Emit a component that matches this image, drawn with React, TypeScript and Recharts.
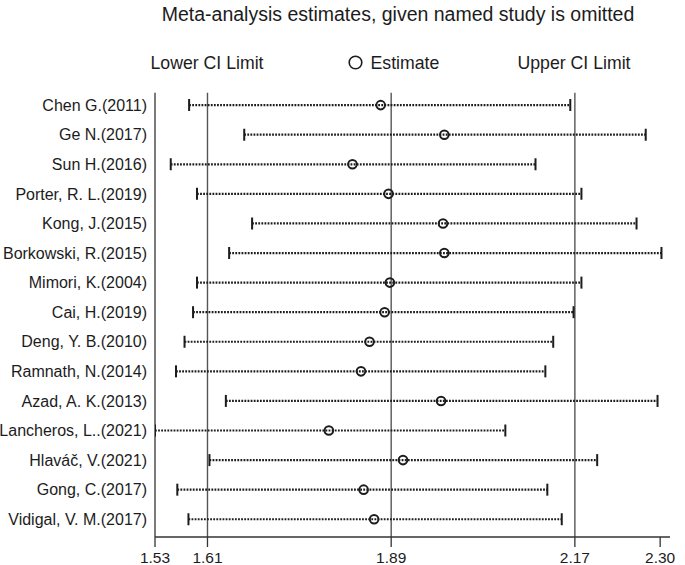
import React from 'react'
import { ScatterChart, Scatter, XAxis, YAxis, ReferenceLine } from 'recharts'

const studies = [
  'Chen G.(2011)',
  'Ge N.(2017)',
  'Sun H.(2016)',
  'Porter, R. L.(2019)',
  'Kong, J.(2015)',
  'Borkowski, R.(2015)',
  'Mimori, K.(2004)',
  'Cai, H.(2019)',
  'Deng, Y. B.(2010)',
  'Ramnath, N.(2014)',
  'Azad, A. K.(2013)',
  'Lancheros, L..(2021)',
  'Hlaváč, V.(2021)',
  'Gong, C.(2017)',
  'Vidigal, V. M.(2017)',
]
const lowerCI = [1.582, 1.666, 1.554, 1.594, 1.678, 1.643, 1.594, 1.588, 1.575, 1.562, 1.638, 1.530, 1.613, 1.564, 1.581]
const estimate = [1.874, 1.971, 1.831, 1.886, 1.969, 1.971, 1.888, 1.880, 1.857, 1.844, 1.966, 1.795, 1.908, 1.848, 1.864]
const upperCI = [2.163, 2.278, 2.110, 2.180, 2.264, 2.302, 2.180, 2.168, 2.137, 2.125, 2.296, 2.064, 2.204, 2.128, 2.150]
const xTicks = [1.53, 1.61, 1.89, 2.17, 2.3]
const refLines = [1.61, 1.89, 2.17]

const FONT = '"Liberation Sans", Arial, sans-serif'
const INK = '#1c1c1c'

const rows = studies.map((name, i) => ({
  row: i + 1,
  name,
  lo: lowerCI[i],
  est: estimate[i],
  hi: upperCI[i],
}))
const loPts = rows.map((r) => ({ x: r.lo, row: r.row }))
const hiPts = rows.map((r) => ({ x: r.hi, row: r.row }))
const estPts = rows.map((r) => ({ x: r.est, row: r.row }))

// vertical end cap of a CI bar
const Cap = (props: any) => {
  const { cx, cy } = props
  if (cx == null || cy == null) return null
  return <line x1={cx} x2={cx} y1={cy - 6} y2={cy + 6} stroke={INK} strokeWidth={2} />
}

// hollow marker for the point estimate
const Ring = (props: any) => {
  const { cx, cy } = props
  if (cx == null || cy == null) return null
  return <circle cx={cx} cy={cy} r={4.3} fill="none" stroke={INK} strokeWidth={2} />
}

export default function App() {
  return (
    <div style={{ position: 'absolute', left: 0, top: 0, width: 685, height: 565, background: '#fff', fontFamily: FONT }}>
      <ScatterChart width={685} height={565} margin={{ top: 92.7, right: 15, bottom: 0, left: 0 }}>
        <XAxis
          type="number"
          dataKey="x"
          domain={[1.53, 2.315]}
          allowDataOverflow
          ticks={xTicks}
          interval={0}
          tickFormatter={(v: number) => v.toFixed(2)}
          height={28}
          tickSize={10}
          tickMargin={5}
          axisLine={{ stroke: '#333', strokeWidth: 1.3 }}
          tickLine={{ stroke: '#333', strokeWidth: 1.3 }}
          tick={{ fontSize: 15.5, fill: INK, fontFamily: FONT }}
        />
        <YAxis
          type="number"
          dataKey="row"
          domain={[0.58, 15.6]}
          allowDataOverflow
          reversed
          ticks={rows.map((r) => r.row)}
          interval={0}
          tickFormatter={(v: number) => studies[v - 1] ?? ''}
          width={155}
          tickSize={0}
          tickMargin={8}
          axisLine={{ stroke: '#333', strokeWidth: 1.3 }}
          tickLine={false}
          tick={{ fontSize: 16, fill: INK, fontFamily: FONT }}
        />
        {refLines.map((v) => (
          <ReferenceLine key={'ref' + v} x={v} stroke="#555" strokeWidth={1.4} />
        ))}
        {rows.map((r) => (
          <ReferenceLine
            key={'ci' + r.row}
            segment={[{ x: r.lo, y: r.row }, { x: r.hi, y: r.row }]}
            stroke={INK}
            strokeWidth={2.2}
            strokeDasharray="1.8 1.3"
            ifOverflow="visible"
          />
        ))}
        <Scatter data={loPts} dataKey="x" shape={<Cap />} isAnimationActive={false} />
        <Scatter data={hiPts} dataKey="x" shape={<Cap />} isAnimationActive={false} />
        <Scatter data={estPts} dataKey="x" shape={<Ring />} isAnimationActive={false} />
      </ScatterChart>
      <svg width={685} height={90} style={{ position: 'absolute', left: 0, top: 0, pointerEvents: 'none' }}>
        <text x={398} y={21} textAnchor="middle" fontSize={19.5} fill={INK} fontFamily={FONT}>
          Meta-analysis estimates, given named study is omitted
        </text>
        <text x={150.5} y={68.5} fontSize={17.7} fill={INK} fontFamily={FONT}>
          Lower CI Limit
        </text>
        <circle cx={355.5} cy={62.5} r={6.3} fill="none" stroke={INK} strokeWidth={1.6} />
        <text x={370.5} y={68.5} fontSize={17.7} fill={INK} fontFamily={FONT}>
          Estimate
        </text>
        <text x={517.5} y={68.5} fontSize={17.7} fill={INK} fontFamily={FONT}>
          Upper CI Limit
        </text>
      </svg>
    </div>
  )
}
